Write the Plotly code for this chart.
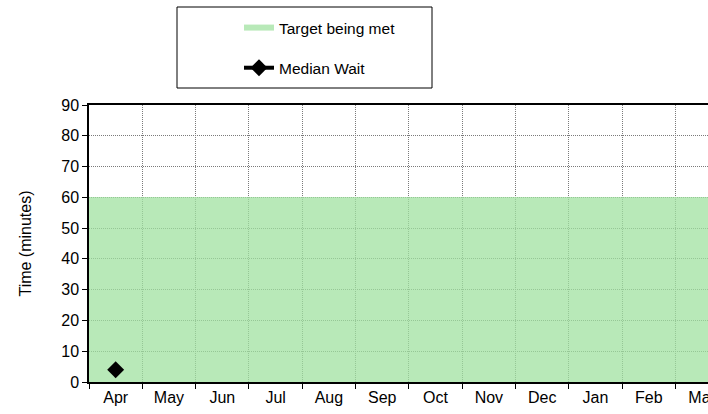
import plotly.graph_objects as go

months = ["Apr", "May", "Jun", "Jul", "Aug", "Sep", "Oct", "Nov", "Dec", "Jan", "Feb", "Mar"]
target_met = [60, 60, 60, 60, 60, 60, 60, 60, 60, 60, 60, 60]
median_wait = [4, None, None, None, None, None, None, None, None, None, None, None]

FONT = "Liberation Sans, Arial, sans-serif"
GREEN = "rgba(160,225,160,0.75)"

fig = go.Figure()
fig.add_trace(go.Bar(
    x=months, y=target_met, name="Target being met",
    marker=dict(color=GREEN, line=dict(width=0)),
    width=1, showlegend=False, hoverinfo="skip",
))
# legend proxy with a wide rectangular swatch
fig.add_trace(go.Scatter(
    x=[None], y=[None], name="Target being met", mode="none",
    fill="toself", fillcolor="rgb(184,233,184)",
    legendgroup="a", showlegend=True, hoverinfo="skip",
))
fig.add_trace(go.Scatter(
    x=months, y=median_wait, name="Median Wait", mode="lines+markers",
    line=dict(color="black", width=4),
    marker=dict(symbol="diamond", size=13, color="black"),
    legendgroup="b",
))

L, R, T, B = 89, 0, 105, 32
W, H = 708, 414
pw = W - L - R
ph = H - T - B

def px_x(p):
    return (p - L) / pw

def px_y(p):
    return (H - B - p) / ph

fig.add_shape(type="rect", xref="paper", yref="paper",
              x0=px_x(177), x1=px_x(432), y0=px_y(88), y1=px_y(7),
              line=dict(color="black", width=1), fillcolor="rgba(0,0,0,0)")

GRID = dict(showgrid=True, gridcolor="#7a7a7a", griddash="1px,1px", gridwidth=1)

fig.update_layout(
    width=W, height=H,
    margin=dict(l=L, r=R, t=T, b=B, pad=0),
    paper_bgcolor="white", plot_bgcolor="white",
    font=dict(family=FONT, size=15, color="black"),
    bargap=0,
    showlegend=True,
    legend=dict(
        x=px_x(239), y=px_y(11), xanchor="left", yanchor="top",
        traceorder="grouped", tracegroupgap=17,
        font=dict(size=15.5, family=FONT), bgcolor="rgba(0,0,0,0)",
        borderwidth=0,
    ),
    xaxis=dict(
        type="category", range=[-0.5, 11.11], tickson="boundaries",
        automargin=False,
        showline=True, linecolor="black", linewidth=1.5, mirror=True,
        ticks="outside", ticklen=5, tickcolor="black",
        tickfont=dict(size=16), **GRID,
    ),
    yaxis=dict(
        range=[0, 90], dtick=10, tick0=0,
        showline=True, linecolor="black", linewidth=1.5,
        ticks="outside", ticklen=5, tickcolor="black",
        zeroline=False,
        tickfont=dict(size=16),
        title=dict(text="Time (minutes)", font=dict(size=16), standoff=26),
        **GRID,
    ),
)

fig.write_html("out.html", config={"displayModeBar": False},
               post_script="document.body.style.margin='0';")
